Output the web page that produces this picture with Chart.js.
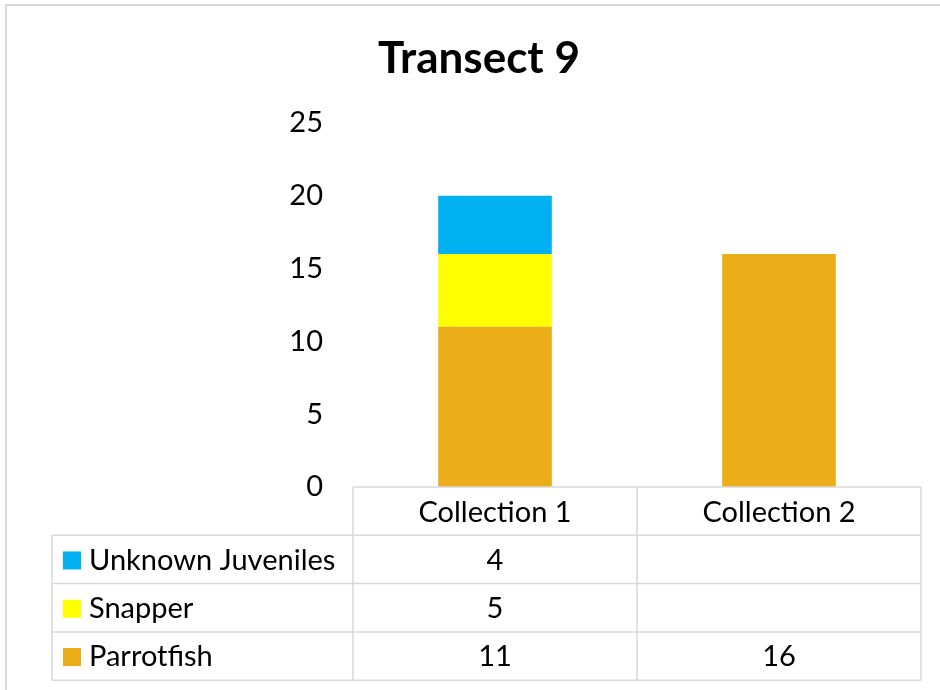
<!DOCTYPE html>
<html>
<head>
<meta charset="utf-8">
<script src="https://cdn.jsdelivr.net/npm/chart.js@4.4.0/dist/chart.umd.min.js"></script>
<style>
  body { margin: 0; background: #fff; }
  #wrap { width: 940px; height: 690px; }
</style>
</head>
<body>
<div id="wrap"><canvas id="chart" width="940" height="690"></canvas></div>
<script>
// data
const categories = ['Collection 1', 'Collection 2'];
const parrotfish = [11, 16];
const snapper = [5, null];
const unknownJuveniles = [4, null];
const yTicks = [0, 5, 10, 15, 20, 25];

const FONT = 'Lato, "Open Sans", sans-serif';
const gridColor = '#d9d9d9';

// draws the frame and the Excel-style data table under the plot
const tablePlugin = {
  id: 'dataTable',
  afterDraw(chart) {
    const ctx = chart.ctx;
    const area = chart.chartArea;
    const x = chart.scales.x;
    const rowH = 48.3;
    const labelLeft = 52;
    const top = area.bottom;
    const rows = chart.data.datasets.slice().reverse();
    const bottom = top + rowH * (rows.length + 1);

    ctx.save();
    // outer chart frame
    ctx.strokeStyle = gridColor;
    ctx.lineWidth = 2;
    ctx.strokeRect(6, 5, 960, 720);

    ctx.lineWidth = 1.5;
    ctx.beginPath();
    // horizontal lines
    ctx.moveTo(area.left, top); ctx.lineTo(area.right, top);
    for (let i = 1; i <= rows.length + 1; i++) {
      const y = top + rowH * i;
      ctx.moveTo(labelLeft, y); ctx.lineTo(area.right, y);
    }
    // vertical lines
    ctx.moveTo(labelLeft, top + rowH); ctx.lineTo(labelLeft, bottom);
    const step = (area.right - area.left) / categories.length;
    for (let i = 0; i <= categories.length; i++) {
      const xx = area.left + step * i;
      ctx.moveTo(xx, top); ctx.lineTo(xx, bottom);
    }
    ctx.stroke();

    ctx.fillStyle = '#000';
    ctx.font = '29px ' + FONT;
    ctx.textBaseline = 'middle';
    ctx.textAlign = 'center';
    categories.forEach((c, i) => {
      ctx.fillText(c, x.getPixelForValue(i), top + rowH / 2 + 1);
    });

    rows.forEach((ds, r) => {
      const cy = top + rowH * (r + 1.5) + 1;
      ctx.fillStyle = ds.backgroundColor;
      ctx.fillRect(63, cy - 9, 18, 18);
      ctx.fillStyle = '#000';
      ctx.textAlign = 'left';
      ctx.fillText(ds.label, 89, cy);
      ctx.textAlign = 'center';
      ds.data.forEach((v, i) => {
        if (v !== null) ctx.fillText(String(v), x.getPixelForValue(i), cy);
      });
    });
    ctx.restore();
  }
};

new Chart(document.getElementById('chart').getContext('2d'), {
  type: 'bar',
  data: {
    labels: categories,
    datasets: [
      { label: 'Parrotfish', data: parrotfish, backgroundColor: '#EBAD18' },
      { label: 'Snapper', data: snapper, backgroundColor: '#FFFF00' },
      { label: 'Unknown Juveniles', data: unknownJuveniles, backgroundColor: '#00B0F0' }
    ]
  },
  options: {
    responsive: false,
    animation: false,
    categoryPercentage: 0.8,
    barPercentage: 0.5,
    layout: { padding: { left: 37, right: 19, top: 0, bottom: 203 } },
    plugins: {
      legend: { display: false },
      tooltip: { enabled: false },
      title: {
        display: true,
        text: 'Transect 9',
        color: '#000',
        font: { family: FONT, size: 44, weight: 'bold' },
        padding: { top: 32, bottom: 38 }
      }
    },
    scales: {
      x: {
        stacked: true,
        display: false
      },
      y: {
        stacked: true,
        min: 0,
        max: 25,
        afterBuildTicks(axis) { axis.ticks = yTicks.map(v => ({ value: v })); },
        afterFit(axis) { axis.width = 316; },
        grid: { display: false },
        border: { display: false },
        ticks: {
          color: '#000',
          padding: 22,
          font: { family: FONT, size: 29 }
        }
      }
    }
  },
  plugins: [tablePlugin]
});
</script>
</body>
</html>
